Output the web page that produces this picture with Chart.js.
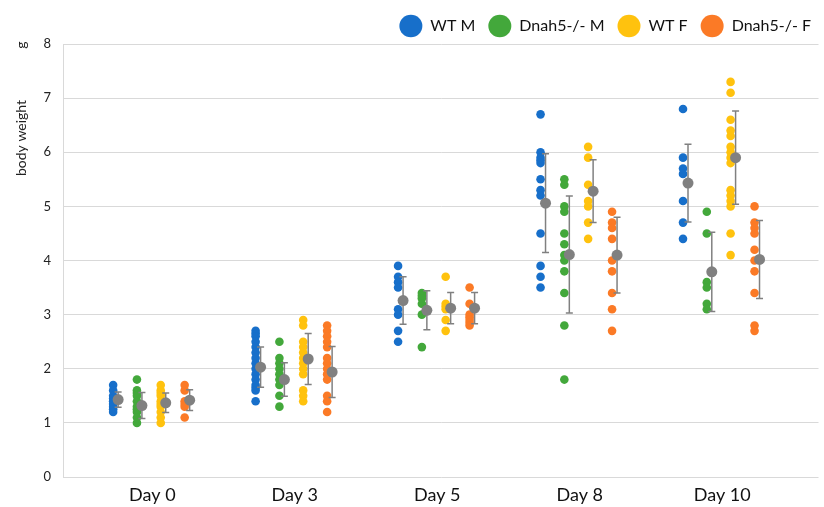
<!DOCTYPE html>
<html>
<head>
<meta charset="utf-8">
<script src="https://cdn.jsdelivr.net/npm/chart.js@4"></script>
<style>
  html, body { margin: 0; padding: 0; background: #fff; }
  #wrap { width: 824px; height: 507px; }
</style>
</head>
<body>
<div id="wrap"><canvas id="weightChart"></canvas></div>
<script>
const dayLabels = ['Day 0', 'Day 3', 'Day 5', 'Day 8', 'Day 10'];
const groupNames = ['WT M', 'Dnah5-/- M', 'WT F', 'Dnah5-/- F'];
const groupColors = ['#176fca', '#43a83b', '#ffc20e', '#fb7a26'];

// individual animals, one inner array per day
const wtM = [
    [1.7, 1.6, 1.5, 1.45, 1.4, 1.35, 1.3, 1.25, 1.2],
    [2.7, 2.65, 2.6, 2.5, 2.4, 2.3, 2.2, 2.1, 2.0, 1.9, 1.8, 1.7, 1.65, 1.6, 1.4],
    [3.9, 3.7, 3.6, 3.5, 3.1, 3.0, 2.7, 2.5],
    [6.7, 6.0, 5.9, 5.85, 5.8, 5.5, 5.3, 5.2, 4.5, 3.9, 3.7, 3.5],
    [6.8, 5.9, 5.7, 5.6, 5.1, 4.7, 4.4]
];
const koM = [
    [1.8, 1.6, 1.55, 1.5, 1.4, 1.3, 1.25, 1.2, 1.1, 1.0],
    [2.5, 2.2, 2.1, 2.0, 1.9, 1.8, 1.7, 1.5, 1.3],
    [3.4, 3.35, 3.3, 3.2, 3.0, 2.4],
    [5.5, 5.4, 5.0, 4.9, 4.5, 4.3, 4.1, 4.0, 3.8, 3.4, 2.8, 1.8],
    [4.9, 4.5, 3.6, 3.5, 3.2, 3.1]
];
const wtF = [
    [1.7, 1.6, 1.55, 1.5, 1.4, 1.35, 1.3, 1.2, 1.1, 1.0],
    [2.9, 2.8, 2.5, 2.4, 2.3, 2.2, 2.1, 2.0, 1.9, 1.6, 1.5, 1.4],
    [3.7, 3.2, 3.15, 3.1, 2.9, 2.7],
    [6.1, 5.9, 5.4, 5.1, 5.0, 4.7, 4.4],
    [7.3, 7.1, 6.6, 6.4, 6.3, 6.1, 6.0, 5.9, 5.8, 5.3, 5.2, 5.1, 5.0, 4.5, 4.1]
];
const koF = [
    [1.7, 1.6, 1.4, 1.35, 1.3, 1.1],
    [2.8, 2.7, 2.6, 2.5, 2.4, 2.2, 2.1, 2.0, 1.9, 1.8, 1.5, 1.4, 1.2],
    [3.5, 3.2, 3.0, 2.95, 2.9, 2.85, 2.8],
    [4.9, 4.7, 4.6, 4.4, 4.0, 3.8, 3.4, 3.1, 2.7],
    [5.0, 4.7, 4.6, 4.5, 4.2, 4.0, 3.8, 3.4, 2.8, 2.7]
];

// group mean and SD per day
const wtMMean = [1.43, 2.03, 3.26, 5.06, 5.43];
const wtMSd   = [0.14, 0.37, 0.44, 0.91, 0.72];
const koMMean = [1.32, 1.80, 3.08, 4.11, 3.79];
const koMSd   = [0.24, 0.31, 0.36, 1.08, 0.73];
const wtFMean = [1.37, 2.18, 3.12, 5.28, 5.90];
const wtFSd   = [0.18, 0.47, 0.29, 0.58, 0.86];
const koFMean = [1.42, 1.94, 3.12, 4.10, 4.02];
const koFSd   = [0.19, 0.47, 0.29, 0.70, 0.72];

const yTicks = [0, 1, 2, 3, 4, 5, 6, 7, 8];

const groupValues = [wtM, koM, wtF, koF];
const groupMeans = [wtMMean, koMMean, wtFMean, koFMean];
const groupSds = [wtMSd, koMSd, wtFSd, koFSd];
const groupOffsets = [-0.275, -0.108, 0.059, 0.227];
const meanShift = 0.035;
const grey = '#808080';

const datasets = [];

groupValues.forEach((days, g) => {
    const pts = [];
    days.forEach((vals, d) => {
        vals.forEach(v => pts.push({x: d + groupOffsets[g], y: v}));
    });
    datasets.push({
        label: groupNames[g],
        data: pts,
        backgroundColor: groupColors[g],
        borderColor: groupColors[g],
        pointRadius: 4.3,
        pointBorderWidth: 0,
        order: 5
    });
});

const meanPts = [];
const barPts = [];
const capPts = [];
groupMeans.forEach((means, g) => {
    means.forEach((m, d) => {
        const x = d + groupOffsets[g] + meanShift;
        const sd = groupSds[g][d];
        meanPts.push({x: x, y: m});
        barPts.push({x: x, y: m - sd}, {x: x, y: m + sd}, {x: x, y: null});
        capPts.push({x: x, y: m - sd}, {x: x, y: m + sd});
    });
});

datasets.push({
    label: 'mean',
    data: meanPts,
    backgroundColor: grey,
    borderColor: grey,
    pointRadius: 5.5,
    pointBorderWidth: 0,
    order: 1
});
datasets.push({
    label: 'sd',
    data: barPts,
    showLine: true,
    spanGaps: false,
    borderColor: grey,
    borderWidth: 1.5,
    pointRadius: 0,
    order: 3
});
datasets.push({
    label: 'caps',
    data: capPts,
    pointStyle: 'line',
    pointRadius: 3.5,
    borderColor: grey,
    pointBorderWidth: 1.5,
    order: 2
});

// y axis title is split in the original: "body weight" and a lone "g" at the top
const yTitlePlugin = {
    id: 'yTitle',
    afterDraw(chart) {
        const ctx = chart.ctx;
        [['body weight', 138], ['g', 45]].forEach(([text, y]) => {
            ctx.save();
            ctx.fillStyle = '#222';
            ctx.font = '14px Lato';
            ctx.textAlign = 'center';
            ctx.textBaseline = 'middle';
            ctx.translate(21, y);
            ctx.rotate(-Math.PI / 2);
            ctx.fillText(text, 0, 0);
            ctx.restore();
        });
    }
};

const ctx = document.getElementById('weightChart').getContext('2d');

const weightChart = new Chart(ctx, {
    type: 'scatter',
    data: { datasets: datasets },
    plugins: [yTitlePlugin],
    options: {
        responsive: true,
        maintainAspectRatio: false,
        animation: false,
        layout: { padding: { left: 0, right: 0, top: 5, bottom: 0 } },
        plugins: {
            legend: {
                display: true,
                position: 'top',
                align: 'end',
                labels: {
                    filter: item => item.datasetIndex < 4,
                    usePointStyle: true,
                    pointStyle: 'circle',
                    pointStyleWidth: 23,
                    boxHeight: 16,
                    padding: 13,
                    color: '#111',
                    font: { family: 'Lato', size: 16 }
                }
            },
            tooltip: { enabled: false }
        },
        scales: {
            x: {
                type: 'linear',
                min: -0.627,
                max: 4.676,
                afterBuildTicks: scale => {
                    scale.ticks = dayLabels.map((_, i) => ({value: i}));
                },
                afterFit: scale => { scale.height = 30; },
                grid: { display: false, drawTicks: false },
                border: { display: false },
                ticks: {
                    autoSkip: false,
                    maxRotation: 0,
                    padding: 7,
                    color: '#111',
                    font: { family: 'Lato', size: 18 },
                    callback: value => dayLabels[value]
                }
            },
            y: {
                min: 0,
                max: 8,
                afterBuildTicks: scale => {
                    scale.ticks = yTicks.map(v => ({value: v}));
                },
                afterFit: scale => { scale.width = 63; },
                grid: { color: '#d9d9d9', lineWidth: 1, drawTicks: false },
                border: { display: true, color: '#d9d9d9', width: 1 },
                ticks: {
                    padding: 12,
                    color: '#222',
                    font: { family: 'Lato', size: 13 }
                }
            }
        }
    }
});
</script>
</body>
</html>
